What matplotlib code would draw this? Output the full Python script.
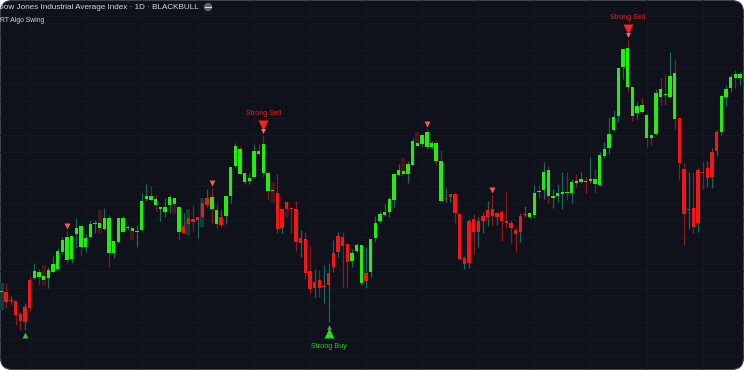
import matplotlib
matplotlib.use("Agg")
import matplotlib.pyplot as plt
from matplotlib.patches import FancyBboxPatch, Ellipse
import numpy as np

# candle data (index points)
opens = [78, 78, 70, 69, 56, 63, 90, 92, 93, 90,
         92, 98, 101, 118, 110, 111, 136, 123, 123, 133,
         146, 142, 141, 117, 117, 128, 138, 142, 139, 138,
         140, 171, 170, 165, 161, 158, 165, 166, 138, 144,
         152, 151, 153, 167, 172, 161, 146, 153, 154, 174,
         204, 196, 188, 189, 193, 216, 197, 179, 179, 177,
         161, 168, 162, 161, 132, 131, 99, 88, 90, 84,
         97, 117, 134, 133, 126, 109, 119, 87, 97, 98,
         132, 149, 155, 158, 170, 195, 196, 196, 205, 224,
         226, 223, 223, 209, 169, 172, 176, 176, 156, 112,
         149, 151, 149, 154, 160, 161, 157, 158, 149, 147,
         140, 154, 156, 153, 155, 178, 180, 174, 172, 174,
         176, 177, 177, 187, 188, 188, 189, 186, 185, 214,
         222, 240, 254, 303, 283, 254, 257, 258, 232, 232,
         236, 273, 275, 273, 251, 252, 201, 161, 162, 200,
         198, 202, 218, 238, 238, 273, 282, 292, 292]
highs = [87, 87, 74, 69, 58, 67, 93, 107, 101, 105,
         103, 114, 122, 133, 139, 134, 152, 144, 136, 150,
         150, 160, 162, 155, 129, 152, 155, 145, 143, 145,
         177, 186, 184, 175, 163, 172, 175, 172, 164, 157,
         161, 165, 153, 172, 181, 182, 166, 160, 175, 203,
         227, 224, 197, 197, 226, 226, 234, 199, 188, 196,
         161, 168, 163, 169, 140, 138, 125, 101, 100, 105,
         107, 130, 138, 138, 126, 121, 127, 125, 123, 131,
         154, 159, 166, 173, 197, 206, 212, 209, 232, 238,
         235, 241, 229, 230, 220, 182, 176, 177, 156, 114,
         151, 156, 153, 158, 169, 175, 158, 160, 178, 150,
         143, 157, 164, 158, 185, 185, 208, 204, 181, 186,
         198, 198, 191, 196, 198, 194, 213, 201, 218, 228,
         253, 260, 302, 321, 330, 283, 268, 272, 257, 235,
         281, 292, 296, 318, 311, 252, 207, 198, 198, 202,
         209, 209, 222, 240, 275, 285, 296, 300, 298]
lows = [60, 62, 66, 45, 40, 40, 59, 91, 85, 84,
        82, 98, 100, 116, 107, 107, 122, 114, 118, 132,
        137, 137, 140, 103, 112, 127, 138, 140, 130, 123,
        138, 169, 169, 159, 149, 153, 157, 157, 130, 137,
        135, 139, 132, 143, 163, 147, 141, 143, 146, 167,
        203, 196, 186, 186, 193, 215, 193, 171, 168, 137,
        137, 153, 137, 119, 113, 91, 77, 72, 73, 67,
        48, 98, 113, 83, 83, 103, 118, 85, 82, 93,
        128, 147, 155, 153, 163, 194, 194, 187, 205, 224,
        223, 221, 221, 205, 168, 168, 168, 147, 110, 101,
        102, 116, 123, 137, 144, 144, 145, 129, 142, 127,
        118, 128, 153, 152, 152, 172, 171, 167, 162, 168,
        161, 170, 167, 183, 187, 177, 187, 177, 184, 212,
        216, 239, 248, 291, 278, 249, 251, 257, 223, 225,
        235, 265, 265, 273, 241, 190, 125, 141, 137, 138,
        181, 183, 182, 214, 235, 264, 278, 282, 285]
closes = [79, 68, 69, 55, 49, 48, 62, 99, 98, 94,
          100, 106, 119, 130, 133, 134, 142, 144, 132, 146,
          147, 147, 152, 152, 129, 152, 152, 143, 142, 139,
          169, 174, 174, 171, 163, 163, 173, 172, 163, 137,
          146, 148, 150, 153, 165, 173, 160, 145, 174, 203,
          224, 221, 197, 192, 219, 219, 226, 197, 180, 141,
          142, 161, 161, 128, 127, 97, 81, 82, 82, 83,
          85, 103, 118, 124, 108, 117, 125, 125, 89, 131,
          147, 156, 158, 171, 196, 200, 199, 206, 229, 227,
          235, 238, 227, 227, 209, 171, 173, 157, 111, 106,
          107, 138, 138, 149, 153, 154, 153, 149, 147, 142,
          136, 138, 155, 157, 177, 179, 198, 200, 174, 177,
          178, 178, 188, 189, 191, 189, 191, 191, 215, 221,
          236, 253, 302, 321, 322, 283, 264, 265, 255, 235,
          277, 281, 276, 294, 297, 207, 156, 160, 143, 147,
          197, 192, 193, 219, 274, 281, 293, 296, 296]
wick_dir = ("trtrrtrtrr" "ttttrttrtt" "trtrttrtrt" "ttrrtttrrt" "trtttrrttt"
            "trtttrrrrr" "trrrtrrtrt" "tttrrttttt" "ttttttrttr" "trtrrttrrt"
            "trtttrtrrr" "rttttrtrtt" "trtrtrtrtt" "ttttrrtrrr" "trrtrrrtrt"
            "rttttttrt")
ghost = [0, 9, 21, 28, 37, 40, 43, 58, 61, 86, 89]

# signals
small_sell = [14, 45, 91, 105]
small_buy = [5]
strong_sell = [56, 134]
strong_buy = [70]

title = "Dow Jones Industrial Average Index \u00b7 1D \u00b7 BLACKBULL"
subtitle = "RT Algo Swing"

W, H = 744, 370
bg = '#0f121a'
green = '#22ee0c'
red = '#f51515'
wick_c = {'t': '#17685a', 'r': '#8a1a1e'}
ghost_c = {'t': '#173a36', 'r': '#4a1519'}
font = ['Liberation Sans', 'DejaVu Sans']

fig = plt.figure(figsize=(W / 100, H / 100), dpi=100)
fig.patch.set_facecolor('white')
panel = FancyBboxPatch((0.5 / W, 0.5 / H), 1 - 1 / W, 1 - 1 / H,
                       boxstyle="round,pad=0,rounding_size=0.016",
                       transform=fig.transFigure, facecolor=bg,
                       edgecolor='#41444c', lw=0.8, mutation_aspect=W / H,
                       zorder=-5)
fig.patches.append(panel)

ax = fig.add_axes([0, 0, 1, 1])
ax.set_facecolor('none')
ax.axis('off')

n = len(opens)
step = 4.674
ax.set_xlim(-1.5 / step, (W - 1.5) / step)
ax.set_ylim(0, H)

o = np.array(opens, float)
h = np.array(highs, float)
l = np.array(lows, float)
c = np.array(closes, float)
x = np.arange(n)

# grid (very faint)
for gy in np.arange(H - 16, 0, -17):
    ax.axhline(gy, color='#141822', lw=0.6, zorder=0)
for gx in range(6, n, 12):
    ax.axvline(gx, color='#141822', lw=0.6, zorder=0)

# wicks
cols = [wick_c[d] for d in wick_dir]
ax.vlines(x, l, h, colors=cols, lw=0.9, zorder=2)
for i in ghost:
    ax.vlines(i, l[i], h[i], colors=ghost_c[wick_dir[i]], lw=3.0, zorder=2)

# bodies
up = c >= o
bottom = np.minimum(o, c)
height = np.maximum(np.abs(c - o), 1.0)
ax.bar(x, height, bottom=bottom, width=0.72,
       color=np.where(up, green, red), lw=0, zorder=3)

# signal markers
for i in small_sell:
    ax.plot(i, h[i] + 5.5, marker='v', ms=4.2, color='#f25a5a', mec='none', zorder=4)
for i in small_buy:
    ax.plot(i, l[i] - 5, marker='^', ms=4.2, color='#45b04a', mec='none', zorder=4)
for i in strong_sell:
    ax.plot(i, h[i] + 11, marker='v', ms=7, color='#ff1f1f', mec='none', zorder=4)
    ax.plot(i, h[i] + 5.5, marker='v', ms=3.5, color='#f07070', mec='none', zorder=4)
    ax.text(i, h[i] + 22.5, 'Strong Sell', color='#e02323', fontsize=5.2,
            family=font, ha='center', va='center', zorder=5)
for i in strong_buy:
    ax.plot(i, l[i] - 11, marker='^', ms=7, color='#22dd22', mec='none', zorder=4)
    ax.plot(i, l[i] - 5, marker='^', ms=3.5, color='#4f9a5a', mec='none', zorder=4)
    ax.text(i, l[i] - 24, 'Strong Buy', color='#22cc22', fontsize=5.2,
            family=font, ha='center', va='center', zorder=5)

# header
fig.text(-2 / W, 1 - 7.5 / H, title, color='#d1d4dc', fontsize=5.9,
         family=font, ha='left', va='center')
fig.patches.append(Ellipse((208 / W, 1 - 7 / H), 8.4 / W, 8.4 / H,
                           transform=fig.transFigure,
                           facecolor='#5d606b', edgecolor='none'))
fig.lines.append(plt.Line2D([205.5 / W, 210.5 / W], [1 - 7 / H, 1 - 7 / H],
                            transform=fig.transFigure, color='#e0e0e0', lw=0.8))
fig.text(0, 1 - 20.5 / H, subtitle, color='#d1d4dc', fontsize=4.9,
         family=font, ha='left', va='center')

plt.savefig('out.png', dpi=100, facecolor=fig.get_facecolor())
